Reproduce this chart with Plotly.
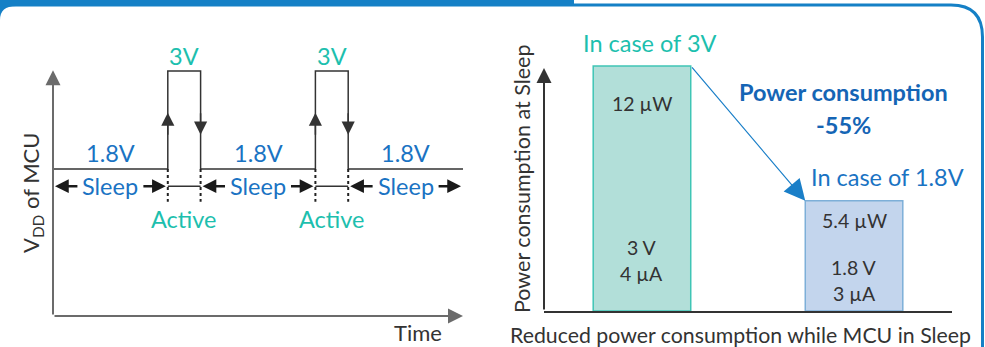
import plotly.graph_objects as go

W, H = 985, 347

# Supply voltage of the MCU over time
v_sleep = 1.8
v_active = 3.0
pulse_starts = [3.5, 8.0]
pulse_width = 1.0
t_end = 12.5

# Power consumption while the MCU sleeps
cases = ["In case of 3V", "In case of 1.8V"]
supply_v = [3, 1.8]
sleep_current_ua = [4, 3]
sleep_power_uw = [12, 5.4]

BLUE = "#1a73c3"
TEAL = "#1dbfae"
BOLD_BLUE = "#1565b5"
FRAME = "#1580c6"
INK = "#333333"
AXIS_GRAY = "#6b6b6b"
FONT = "Lato, 'Open Sans', sans-serif"


def paper(x, y):
    """pixel position -> paper coordinates"""
    return x / W, 1 - y / H


# plotting areas (pixels)
L_X0, L_X1 = 53, 463
L_Y0, L_YPX = 316, 81.67      # 0 V line, pixels per volt
R_X0, R_X1 = 544, 952
R_Y0, R_YPX = 311, 20.42      # 0 µW line, pixels per µW

l_yrange = [0, 3.2]
r_yrange = [0, 12.5]
r_xrange = [-0.462, 1.462]
bar_width = 0.46

fig = go.Figure()

# ---------------- left: V_DD waveform ----------------
t_pts, v_pts = [0.0], [v_sleep]
for s in pulse_starts:
    e = s + pulse_width
    t_pts += [s, s, e, e]
    v_pts += [v_sleep, v_active, v_active, v_sleep]
t_pts.append(t_end)
v_pts.append(v_sleep)

fig.add_trace(go.Scatter(x=t_pts, y=v_pts, mode="lines",
                         line=dict(color=INK, width=1.5),
                         xaxis="x", yaxis="y", hoverinfo="skip"))

row_v = 1.59       # level of the Sleep / Active row
dot_bottom = 1.40

for s in pulse_starts:
    e = s + pulse_width
    # active span bar
    fig.add_trace(go.Scatter(x=[s, e], y=[row_v, row_v], mode="lines",
                             line=dict(color=INK, width=1.5),
                             xaxis="x", yaxis="y", hoverinfo="skip"))
    # dotted phase boundaries
    for xb in (s, e):
        fig.add_trace(go.Scatter(x=[xb, xb], y=[v_sleep, dot_bottom], mode="lines",
                                 line=dict(color="#222222", width=2, dash="dot"),
                                 xaxis="x", yaxis="y", hoverinfo="skip"))

annotations = []


def arrow(x, y, ax, ay, color, width, size, xr="x", yr="y"):
    annotations.append(dict(x=x, y=y, ax=ax, ay=ay, xref=xr, yref=yr,
                            axref=xr, ayref=yr, text="", showarrow=True,
                            arrowhead=2, arrowsize=size, arrowwidth=width,
                            arrowcolor=color, standoff=0,
                            font=dict(size=10)))


def label(x, y, text, color, size, xr="x", yr="y", bold=False, angle=0):
    annotations.append(dict(x=x, y=y, xref=xr, yref=yr, text=text,
                            showarrow=False, xanchor="center", yanchor="middle",
                            textangle=angle,
                            font=dict(family=FONT, size=size, color=color,
                                      weight="bold" if bold else "normal")))


# axes with arrow heads
arrow(0, 3.01, 0, 0, AXIS_GRAY, 2, 1.5)
arrow(t_end, 0, 0, 0, AXIS_GRAY, 2, 1.5)

# arrow heads on the rising / falling edges
for s in pulse_starts:
    e = s + pulse_width
    arrow(s, 2.49, s, 2.2, INK, 1.5, 1.75)
    arrow(e, 2.22, e, 2.5, INK, 1.5, 1.75)
    label(s + pulse_width / 2, 3.18, f"{v_active:g}V", TEAL, 23.5)
    label(s + pulse_width / 2, 1.19, "Active", TEAL, 23.5)

# sleep spans
edges = [0.0] + [x for s in pulse_starts for x in (s, s + pulse_width)] + [t_end]
sleep_spans = list(zip(edges[0::2], edges[1::2]))
half_text = 0.96
for a, b in sleep_spans:
    c = (a + b) / 2
    label(c, 1.996, f"{v_sleep:g}V", BLUE, 23.5)
    label(c, row_v, "Sleep", BLUE, 23.5)
    arrow(a + 0.06, row_v, c - half_text, row_v, "#1a1a1a", 2.5, 1.1)
    arrow(b - 0.06, row_v, c + half_text, row_v, "#1a1a1a", 2.5, 1.1)

x, y = paper(32, 193)
label(x, y, "V<sub>DD</sub> of MCU", INK, 22, "paper", "paper", angle=-90)
x, y = paper(418, 332)
label(x, y, "Time", INK, 22, "paper", "paper")

# ---------------- right: sleep power bars ----------------
fig.add_trace(go.Bar(
    x=[0, 1], y=sleep_power_uw, width=bar_width,
    marker=dict(color=["#b2dfd9", "#c3d5ed"],
                line=dict(color=["#3fc5b5", "#7dafd8"], width=1.5)),
    xaxis="x2", yaxis="y2", hoverinfo="skip"))

power_label_y = [10.15, 4.45]
volt_label_y = [3.13, 2.15]
curr_label_y = [1.86, 0.88]
for i in range(2):
    label(i, power_label_y[i], f"{sleep_power_uw[i]:g} µW", INK, 19.5, "x2", "y2")
    label(i, volt_label_y[i], f"{supply_v[i]:g} V", INK, 19.5, "x2", "y2")
    label(i, curr_label_y[i], f"{sleep_current_ua[i]:g} µA", INK, 19.5, "x2", "y2")

x, y = paper(650, 43)
label(x, y, cases[0], TEAL, 23.5, "paper", "paper")
x, y = paper(887, 177)
label(x, y, cases[1], BLUE, 23.5, "paper", "paper")

reduction = round((1 - sleep_power_uw[1] / sleep_power_uw[0]) * 100)
x, y = paper(843, 92)
label(x, y, "Power consumption", BOLD_BLUE, 23.5, "paper", "paper", bold=True)
x, y = paper(843, 125)
label(x, y, f"-{reduction}%", BOLD_BLUE, 23.5, "paper", "paper", bold=True)

# reduction arrow from the 3V bar corner to the 1.8V bar corner
arrow(1 - bar_width / 2, sleep_power_uw[1], bar_width / 2, sleep_power_uw[0],
      "#1a7fc8", 1.2, 3.5, "x2", "y2")

# y axis arrow of the bar chart
arrow(r_xrange[0], 11.9, r_xrange[0], 0, INK, 2, 1.5, "x2", "y2")

x, y = paper(522, 179)
label(x, y, "Power consumption at Sleep", INK, 21.5, "paper", "paper", angle=-90)
x, y = paper(740, 335)
label(x, y, "Reduced power consumption while MCU in Sleep", INK, 21.3, "paper", "paper")

# ---------------- frame ----------------
def pth(cmds):
    out = []
    for c in cmds:
        if isinstance(c, str):
            out.append(c)
        else:
            px_, py_ = paper(*c)
            out.append(f"{px_:.5f},{py_:.5f}")
    return " ".join(out)


shapes = [
    dict(type="rect", xref="paper", yref="paper",
         x0=0, x1=574 / W, y0=1 - 6.5 / H, y1=1,
         fillcolor=FRAME, line=dict(width=0)),
    dict(type="path", xref="paper", yref="paper",
         path=pth(["M", (0, 6), "L", (16, 6), "Q", (0, 6), (0, 20), "Z"]),
         fillcolor=FRAME, line=dict(width=0)),
    dict(type="path", xref="paper", yref="paper",
         path=pth(["M", (574, 5), "L", (951, 5), "Q", (982.5, 5), (982.5, 37),
                   "L", (982.5, 347)]),
         line=dict(color=FRAME, width=3)),
]

l_top = L_Y0 - l_yrange[1] * L_YPX
r_top = R_Y0 - r_yrange[1] * R_YPX
hidden = dict(visible=False, fixedrange=True)

fig.update_layout(
    width=W, height=H, margin=dict(l=0, r=0, t=0, b=0),
    paper_bgcolor="white", plot_bgcolor="rgba(0,0,0,0)",
    showlegend=False, font=dict(family=FONT, color=INK),
    xaxis=dict(domain=[L_X0 / W, L_X1 / W], range=[0, t_end], **hidden),
    yaxis=dict(domain=[1 - L_Y0 / H, 1 - l_top / H], range=l_yrange, **hidden),
    xaxis2=dict(domain=[R_X0 / W, R_X1 / W], range=r_xrange, anchor="y2",
                showline=True, linecolor=INK, linewidth=2, showgrid=False,
                zeroline=False, showticklabels=False, ticks="", fixedrange=True),
    yaxis2=dict(domain=[1 - R_Y0 / H, 1 - r_top / H], range=r_yrange,
                anchor="x2", **hidden),
    annotations=annotations, shapes=shapes,
)

fig.write_html("out.html")
